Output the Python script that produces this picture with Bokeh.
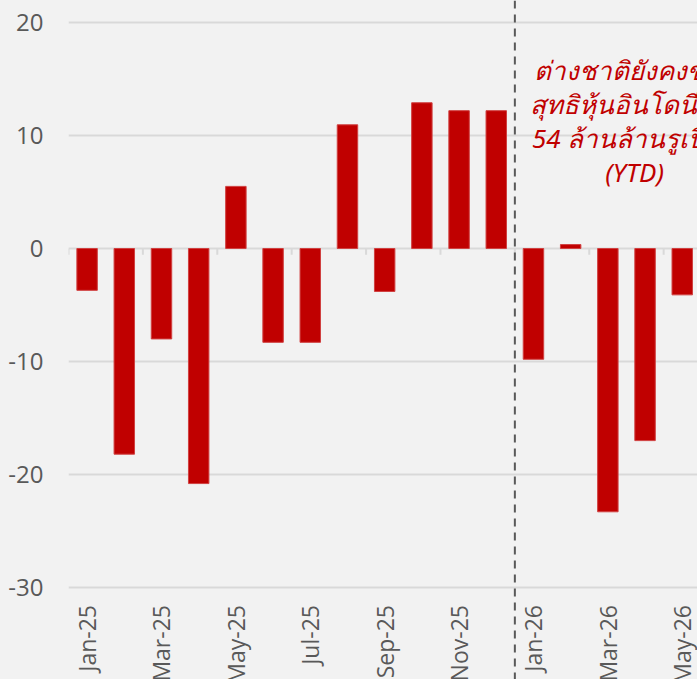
import math
from bokeh.plotting import figure
from bokeh.models import ColumnDataSource, Range1d, FixedTicker, Span
from bokeh.core.properties import value
from bokeh.embed import file_html
from bokeh.resources import INLINE

# ---- data ----
months = ["Jan-25", "Feb-25", "Mar-25", "Apr-25", "May-25", "Jun-25", "Jul-25",
          "Aug-25", "Sep-25", "Oct-25", "Nov-25", "Dec-25", "Jan-26", "Feb-26",
          "Mar-26", "Apr-26", "May-26"]
flows = [-3.7, -18.2, -8.0, -20.8, 5.5, -8.3, -8.3, 10.95, -3.8, 12.9, 12.2, 12.2,
         -9.8, 0.35, -23.3, -17.0, -4.1]
y_ticks = [-30, -20, -10, 0, 10, 20]
y_tick_labels = ["-30", "-20", "-10", "0", "10", "20"]
annotation = "ต่างชาติยังคงขาย\nสุทธิหุ้นอินโดนีเซีย\n54 ล้านล้านรูเปียห์\n(YTD)"
divider_after = "Dec-25"

RED = "#C00000"
GREY_TXT = "#595959"
GRID = "#d9d9d9"
BG = "#f2f2f2"
FONT = "Open Sans"

idx = list(range(len(months)))
src = ColumnDataSource(dict(x=idx, top=flows, m=months))

p = figure(width=697, height=679, output_backend="svg", toolbar_location=None,
           x_range=Range1d(-0.5, 16.41), y_range=Range1d(-38.14, 21.95),
           x_axis_location=None, min_border_left=68, min_border_right=0,
           min_border_top=0, min_border_bottom=0)
p.background_fill_color = BG
p.border_fill_color = BG
p.outline_line_color = None

# y axis
yax = p.yaxis[0]
yax.ticker = FixedTicker(ticks=y_ticks)
yax.major_label_overrides = {t: s for t, s in zip(y_ticks, y_tick_labels)}
yax.axis_line_color = None
yax.major_tick_line_color = None
yax.minor_tick_line_color = None
yax.major_tick_in = 0
yax.major_tick_out = 0
yax.major_label_text_font = FONT
yax.major_label_text_font_size = "24px"
yax.major_label_text_color = GREY_TXT
yax.major_label_standoff = 25

p.xgrid.visible = False
p.ygrid.ticker = FixedTicker(ticks=y_ticks)
p.ygrid.grid_line_color = GRID
p.ygrid.grid_line_width = 2

# bars
p.vbar(x="x", top="top", bottom=0, width=0.55, source=src,
       fill_color=RED, line_color="#d04040", line_width=1)

# category boundary ticks on zero line (every two months)
bounds = [i - 0.5 for i in idx[::2]]
p.segment(x0=bounds, y0=[0] * len(bounds), x1=bounds, y1=[-0.55] * len(bounds),
          line_color=GRID, line_width=2)

# x labels (every other month)
lab_src = ColumnDataSource(dict(x=idx[::2], y=[-31.55] * len(idx[::2]), t=months[::2]))
p.text(x="x", y="y", text="t", source=lab_src, angle=math.pi / 2,
       text_align="right", text_baseline="middle",
       text_font=value(FONT), text_font_size="23px", text_color=GREY_TXT)

# divider
div_x = months.index(divider_after) + 0.5
p.add_layout(Span(location=div_x, dimension="height", line_color=GREY_TXT,
                  line_width=2, line_dash="8 6"))

# annotation
p.text(x=[14.72], y=[11.3], text=[annotation], text_align="center",
       text_baseline="middle", text_font=value("Noto Sans"),
       text_font_style="italic", text_font_size="26px", text_color=RED,
       text_line_height=0.95)

html = file_html(p, INLINE)
html = html.replace("</head>", "<style>html,body{background:#f2f2f2;}</style></head>", 1)
open("out.html", "w").write(html)
